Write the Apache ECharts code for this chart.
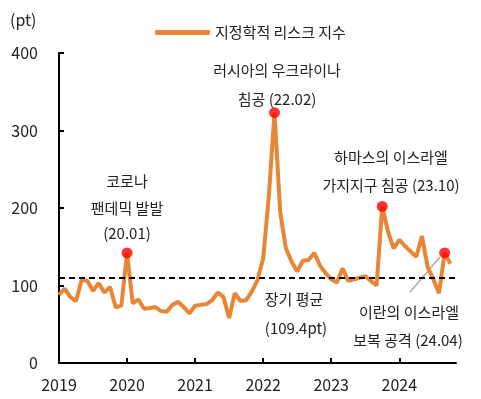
<!DOCTYPE html>
<html>
<head>
<meta charset="utf-8">
<script src="https://cdn.jsdelivr.net/npm/echarts@6/dist/echarts.min.js"></script>
<style>
html,body{margin:0;padding:0;background:#fff;}
#c{width:481px;height:399px;}
</style>
</head>
<body>
<div id="c"></div>
<script>
// Monthly categories 2019.01 .. 2024.11
var months = [];
for (var y = 2019; y <= 2024; y++) {
  for (var m = 1; m <= 12; m++) {
    if (y === 2024 && m > 11) break;
    months.push(y + '.' + (m < 10 ? '0' + m : m));
  }
}
var seriesName = '지정학적 리스크 지수';
var gprValues = [
  88, 96, 85, 80, 107, 106, 93, 103, 91, 98, 72, 74,
  142, 77, 82, 70, 71, 72, 67, 66, 75, 79, 72, 64,
  74, 75, 76, 81, 91, 85, 58, 90, 80, 81, 92, 107,
  135, 215, 323, 195, 148, 131, 118, 132, 133, 142, 126, 116,
  108, 104, 122, 106, 108, 110, 112, 106, 100, 202, 170, 148,
  159, 151, 144, 137, 164, 124, 108, 90, 142, 128
];
var eventIndex = [12, 38, 57, 68];
var longTermAvg = 109.4;
var yTicks = [0, 100, 200, 300, 400];

var FONT = 'Noto Sans CJK KR';
var TXT = '#222';
var ORANGE = '#E98636';

var dotData = months.map(function (m, i) {
  return eventIndex.indexOf(i) >= 0 ? gprValues[i] : null;
});

var annotations = [
  ['러시아의 우크라이나', 277, 70],
  ['침공 (22.02)', 277, 99],
  ['코로나', 127, 181],
  ['팬데믹 발발', 127, 208],
  ['(20.01)', 127, 233],
  ['하마스의 이스라엘', 391, 157],
  ['가지지구 침공 (23.10)', 391, 185],
  ['장기 평균', 294, 299],
  ['(109.4pt)', 296, 328],
  ['이란의 이스라엘', 409, 312],
  ['보복 공격 (24.04)', 408, 340]
];

var graphics = [{
  type: 'text', left: 10, top: 12,
  style: { text: '(pt)', font: '16px "' + FONT + '"', fill: TXT }
}, {
  type: 'line',
  shape: { x1: 410, y1: 292, x2: 440, y2: 257 },
  style: { stroke: '#aaaaaa', lineWidth: 1.5 }
}];
annotations.forEach(function (a) {
  graphics.push({
    type: 'text', x: a[1], y: a[2],
    style: { text: a[0], font: '15px "' + FONT + '"', fill: TXT, align: 'center', verticalAlign: 'middle' }
  });
});

var chart = echarts.init(document.getElementById('c'), null, { renderer: 'canvas' });
chart.setOption({
  animation: false,
  backgroundColor: '#fff',
  textStyle: { fontFamily: FONT },
  grid: { left: 59, right: 25, top: 53, bottom: 36, containLabel: false },
  legend: {
    data: [{ name: seriesName, icon: 'roundRect', itemStyle: { color: ORANGE } }],
    left: 150, top: 20,
    itemWidth: 55, itemHeight: 5, itemGap: 10,
    textStyle: { fontSize: 15, color: TXT, fontFamily: FONT }
  },
  xAxis: {
    type: 'category',
    data: months,
    boundaryGap: false,
    axisLine: { lineStyle: { color: '#000', width: 2 } },
    axisTick: { inside: true, length: 5, lineStyle: { color: '#000', width: 2 },
      interval: function (i) { return i % 12 === 0; } },
    axisLabel: { interval: function (i) { return i % 12 === 0; },
      formatter: function (v) { return v.slice(0, 4); },
      fontSize: 16, color: TXT, margin: 14, fontFamily: FONT },
    splitLine: { show: false }
  },
  yAxis: {
    type: 'value',
    min: yTicks[0], max: yTicks[yTicks.length - 1], interval: 100,
    axisLine: { show: true, lineStyle: { color: '#000', width: 2 } },
    axisTick: { show: true, inside: true, length: 5, lineStyle: { color: '#000', width: 2 } },
    axisLabel: { fontSize: 16, color: TXT, margin: 21, fontFamily: FONT },
    splitLine: { show: false }
  },
  series: [{
    name: seriesName,
    type: 'line',
    data: gprValues,
    symbol: 'none',
    lineStyle: { color: ORANGE, width: 4 },
    itemStyle: { color: ORANGE },
    z: 2,
    markLine: {
      silent: true,
      symbol: 'none',
      label: { show: false },
      lineStyle: { color: '#000', width: 2, type: [6, 4] },
      data: [{ yAxis: longTermAvg }]
    }
  }, {
    name: 'events',
    type: 'scatter',
    data: dotData,
    symbol: 'circle',
    symbolSize: 11,
    itemStyle: { color: '#FF0000' },
    z: 3
  }],
  graphic: graphics
});
</script>
</body>
</html>
